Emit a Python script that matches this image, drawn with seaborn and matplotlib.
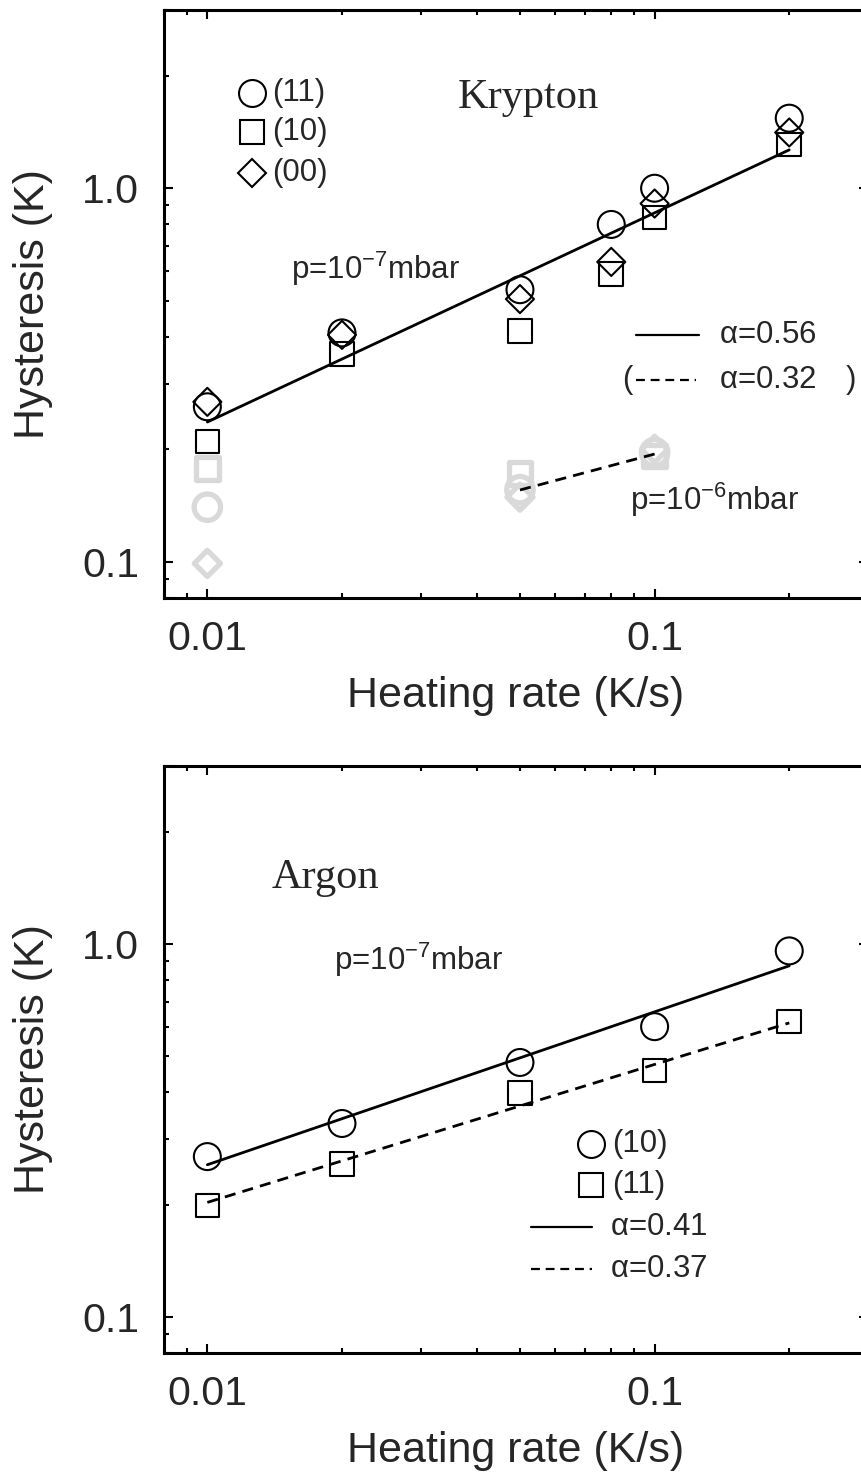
import numpy as np
import pandas as pd
import matplotlib
matplotlib.use("Agg")
import matplotlib.pyplot as plt
from matplotlib.ticker import LogLocator, NullFormatter, FixedLocator, FixedFormatter
import seaborn as sns

# ---------------- data ----------------
# Krypton, p = 1e-7 mbar
kr_rate = [0.01, 0.02, 0.05, 0.08, 0.1, 0.2]
kr_11 = [0.26, 0.41, 0.535, 0.80, 1.00, 1.54]
kr_10 = [0.21, 0.36, 0.415, 0.59, 0.835, 1.31]
kr_00 = [0.268, 0.405, 0.505, 0.635, 0.91, 1.41]

# Krypton, p = 1e-6 mbar
kr6_rate = [0.01, 0.05, 0.1]
kr6_11 = [0.14, 0.156, 0.196]
kr6_10 = [0.178, 0.172, 0.192]
kr6_00 = [0.099, 0.149, 0.200]

# Argon, p = 1e-7 mbar
ar_rate = [0.01, 0.02, 0.05, 0.1, 0.2]
ar_10 = [0.269, 0.33, 0.481, 0.60, 0.958]
ar_11 = [0.199, 0.257, 0.398, 0.458, 0.619]

# power-law fits H = A * rate**alpha
kr_fit_range, kr_fit_A, kr_fit_alpha = [0.01, 0.2], 3.12, 0.56
kr6_fit_range, kr6_fit_A, kr6_fit_alpha = [0.05, 0.1], 0.406, 0.32
ar10_fit_range, ar10_fit_A, ar10_fit_alpha = [0.01, 0.2], 1.69, 0.41
ar11_fit_range, ar11_fit_A, ar11_fit_alpha = [0.01, 0.2], 1.114, 0.37

x_ticks = [0.01, 0.1]
x_ticklabels = ["0.01", "0.1"]
y_ticks = [0.1, 1.0]
y_ticklabels = ["0.1", "1.0"]

# ---------------- style ----------------
sns.set_theme(style="ticks")
plt.rcParams["font.family"] = ["Liberation Sans", "DejaVu Sans"]
plt.rcParams["mathtext.fontset"] = "custom"
plt.rcParams["mathtext.rm"] = "Liberation Sans"
plt.rcParams["mathtext.it"] = "Liberation Sans:italic"
plt.rcParams["mathtext.bf"] = "Liberation Sans:bold"

GRAY = "#d9d9d9"
ANN_FS = 22.5
DASH = (0, (4.0, 2.6))

MARK = {"o": 19.4, "s": 17.0, "D": 14.3}


def style_axes(ax):
    ax.set_xscale("log")
    ax.set_yscale("log")
    ax.set_xlim(0.008, 0.3)
    ax.set_ylim(0.08, 3.0)
    ax.xaxis.set_major_locator(FixedLocator(x_ticks))
    ax.xaxis.set_major_formatter(FixedFormatter(x_ticklabels))
    ax.yaxis.set_major_locator(FixedLocator(y_ticks))
    ax.yaxis.set_major_formatter(FixedFormatter(y_ticklabels))
    ax.xaxis.set_minor_locator(LogLocator(base=10, subs=np.arange(2, 10)))
    ax.yaxis.set_minor_locator(LogLocator(base=10, subs=np.arange(2, 10)))
    ax.xaxis.set_minor_formatter(NullFormatter())
    ax.yaxis.set_minor_formatter(NullFormatter())
    ax.tick_params(which="both", direction="in", top=True, right=True,
                   width=1.5, color="black")
    ax.tick_params(which="major", length=6.5)
    ax.tick_params(which="minor", length=3.5)
    ax.tick_params(axis="x", which="major", labelsize=29.5, pad=16)
    ax.tick_params(axis="y", which="major", labelsize=29.5, pad=18)
    for sp in ax.spines.values():
        sp.set_linewidth(2.2)
        sp.set_color("black")
    ax.set_xlabel("Heating rate (K/s)", fontsize=31, labelpad=13)
    ax.set_ylabel("Hysteresis (K)", fontsize=31)
    ax.yaxis.set_label_coords(-0.157, 0.5)


def points(ax, x, y, marker, color="black", lw=1.5, size=None):
    ms = MARK[marker] if size is None else size
    sns.scatterplot(x=x, y=y, ax=ax, marker=marker, s=ms ** 2,
                    facecolor="none", edgecolor=color, linewidth=lw,
                    legend=False, zorder=3)


def fit_line(ax, rng, A, alpha, ls="-"):
    xs = np.array(rng)
    ys = A * xs ** alpha
    sns.lineplot(x=xs, y=ys, ax=ax, color="black", lw=2.0, linestyle=ls,
                 legend=False, zorder=4)


def key_marker(ax, x, y, marker, label, tx):
    ax.plot([x], [y], transform=ax.transAxes, marker=marker,
            ms=MARK[marker], mfc="none", mec="black", mew=1.5, ls="none",
            clip_on=False)
    ax.text(tx, y, label, transform=ax.transAxes, fontsize=ANN_FS,
            ha="left", va="center")


def key_line(ax, x0, x1, y, ls, label, tx):
    ax.plot([x0, x1], [y, y], transform=ax.transAxes, color="black",
            lw=1.6, ls=ls, clip_on=False)
    ax.text(tx, y, label, transform=ax.transAxes, fontsize=ANN_FS,
            ha="left", va="center")


fig = plt.figure(figsize=(8.61, 14.73), dpi=100)
ax1 = fig.add_axes([164 / 861, 1 - 598 / 1473, 704 / 861, 588 / 1473])
ax2 = fig.add_axes([164 / 861, 1 - 1353 / 1473, 704 / 861, 587 / 1473])

# ---------------- Krypton ----------------
style_axes(ax1)
points(ax1, kr6_rate, kr6_10, "s", color=GRAY, lw=3.8, size=16.5)
points(ax1, kr6_rate, kr6_11, "o", color=GRAY, lw=3.8, size=19.0)
points(ax1, kr6_rate, kr6_00, "D", color=GRAY, lw=3.8, size=13.3)
points(ax1, kr_rate, kr_11, "o")
points(ax1, kr_rate, kr_10, "s")
points(ax1, kr_rate, kr_00, "D")
fit_line(ax1, kr_fit_range, kr_fit_A, kr_fit_alpha, "-")
fit_line(ax1, kr6_fit_range, kr6_fit_A, kr6_fit_alpha, DASH)

key_marker(ax1, 0.1257, 0.8588, "o", "(11)", 0.1534)
key_marker(ax1, 0.1257, 0.7917, "s", "(10)", 0.1534)
key_marker(ax1, 0.1257, 0.7228, "D", "(00)", 0.1534)
ax1.text(0.4176, 0.8340, "Krypton", transform=ax1.transAxes,
         fontsize=30.5, family="Liberation Serif", ha="left", va="baseline")
ax1.text(0.1798, 0.5429, r"p=10$^{\mathregular{-7}}$mbar", transform=ax1.transAxes,
         fontsize=ANN_FS, ha="left", va="baseline")
key_line(ax1, 0.6705, 0.7599, 0.4473, "-", r"$\mathregular{\alpha}$=0.56", 0.7884)
key_line(ax1, 0.6705, 0.7560, 0.3701, DASH, r"$\mathregular{\alpha}$=0.32", 0.7884)
ax1.text(0.6501, 0.3701, "(", transform=ax1.transAxes, fontsize=ANN_FS,
         ha="left", va="center")
ax1.text(0.9688, 0.3701, ")", transform=ax1.transAxes, fontsize=ANN_FS,
         ha="left", va="center")
ax1.text(0.6619, 0.1497, r"p=10$^{\mathregular{-6}}$mbar", transform=ax1.transAxes,
         fontsize=ANN_FS, ha="left", va="baseline")

# ---------------- Argon ----------------
style_axes(ax2)
points(ax2, ar_rate, ar_10, "o")
points(ax2, ar_rate, ar_11, "s")
fit_line(ax2, ar10_fit_range, ar10_fit_A, ar10_fit_alpha, "-")
fit_line(ax2, ar11_fit_range, ar11_fit_A, ar11_fit_alpha, DASH)

ax2.text(0.1534, 0.7922, "Argon", transform=ax2.transAxes,
         fontsize=30.5, family="Liberation Serif", ha="left", va="baseline")
ax2.text(0.2411, 0.6533, r"p=10$^{\mathregular{-7}}$mbar", transform=ax2.transAxes,
         fontsize=ANN_FS, ha="left", va="baseline")
key_marker(ax2, 0.6065, 0.3561, "o", "(10)", 0.6364)
key_marker(ax2, 0.6065, 0.2862, "s", "(11)", 0.6364)
key_line(ax2, 0.5213, 0.6080, 0.2147, "-", r"$\mathregular{\alpha}$=0.41", 0.6335)
key_line(ax2, 0.5213, 0.6080, 0.1431, DASH, r"$\mathregular{\alpha}$=0.37", 0.6335)

fig.savefig("out.png", dpi=100)
